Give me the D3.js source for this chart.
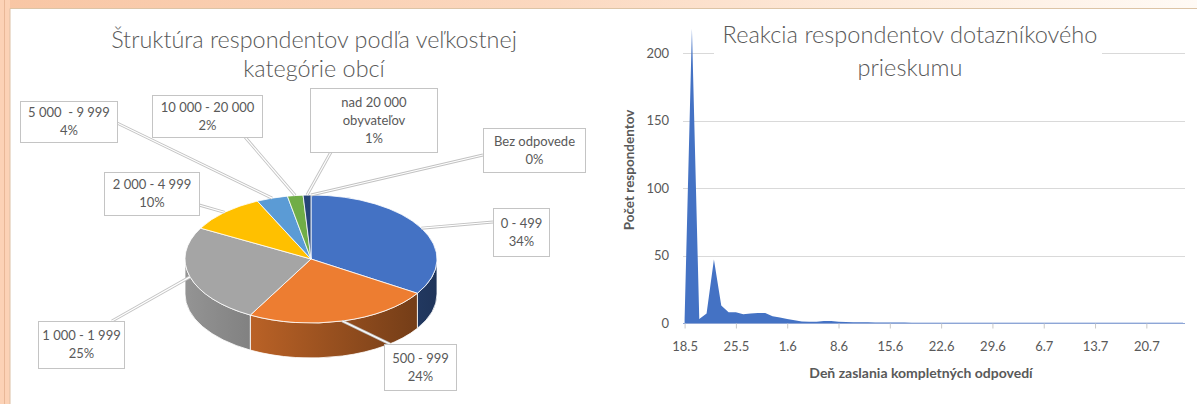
<!DOCTYPE html>
<html>
<head>
<meta charset="utf-8">
<script src="https://cdn.jsdelivr.net/npm/d3@7"></script>
<style>
    html, body { margin: 0; padding: 0; background: #fff; }
    svg { display: block; font-family: Lato, "Open Sans", sans-serif; }
</style>
</head>
<body>
<svg id="chart" width="1197" height="404"></svg>
<script>
// ---- pie: size categories of municipalities ----
const sizeCategories = ['0 - 499', '500 - 999', '1 000 - 1 999', '2 000 - 4 999',
    '5 000  - 9 999', '10 000 - 20 000', 'nad 20 000 obyvateľov', 'Bez odpovede'];
const sizeLabelLines = [['0 - 499'], ['500 - 999'], ['1 000 - 1 999'], ['2 000 - 4 999'],
    ['5 000  - 9 999'], ['10 000 - 20 000'], ['nad 20 000', 'obyvateľov'], ['Bez odpovede']];
const sizeShares = [34, 24, 25, 10, 4, 2, 1, 0];
const sizeColors = ['#4472C4', '#ED7D31', '#A5A5A5', '#FFC000', '#5B9BD5', '#70AD47', '#264478', '#9E480E'];

// ---- area: responses per day, starting 18.5 ----
const firstDay = new Date(2020, 4, 18);
const dailyResponses = [3, 218, 3, 7, 47, 13, 8, 8, 6.5, 7, 7.5, 7.5, 5, 4, 3, 2, 1.2, 1, 1, 1.5,
    1.5, 1, 0.8, 0.6, 0.5, 0.5, 0.4, 0.4, 0.3, 0.3, 0.3, 0.2, 0.2, 0.2, 0.2, 0.2, 0.2, 0.2, 0.2, 0.2,
    0.2, 0.2, 0.2, 0.2, 0.2, 0.2, 0.2, 0.2, 0.2, 0.2, 0.2, 0.2, 0.2, 0.2, 0.2, 0.2, 0.2, 0.2, 0.2, 0.2,
    0.2, 0.2, 0.2, 0.2, 0.2, 0.2, 0.2, 0.2, 0.2];
const yTicks = [0, 50, 100, 150, 200];
const xTickLabels = ['18.5', '25.5', '1.6', '8.6', '15.6', '22.6', '29.6', '6.7', '13.7', '20.7'];

const pieTitle = ['Štruktúra respondentov podľa veľkostnej', 'kategórie obcí'];
const areaTitle = ['Reakcia respondentov dotazníkového', 'prieskumu'];
const yTitle = 'Počet respondentov';
const xTitle = 'Deň zaslania kompletných odpovedí';

const textColor = '#595959';
const svg = d3.select('#chart');
const defs = svg.append('defs');

// ---------- slide background ----------
const topGrad = defs.append('linearGradient').attr('id', 'topGrad');
[[0, '#f8c6a4'], [0.45, '#fbd8bf'], [0.75, '#fdebdc'], [1, '#fffaf5']].forEach(([o, c]) =>
    topGrad.append('stop').attr('offset', o).attr('stop-color', c));
svg.append('rect').attr('width', 1197).attr('height', 9).attr('fill', 'url(#topGrad)');
svg.append('rect').attr('width', 10).attr('height', 404).attr('fill', '#fcd2b6');
svg.append('line').attr('x1', 4.5).attr('x2', 4.5).attr('y1', 0).attr('y2', 404)
    .attr('stroke', '#e9b898').attr('stroke-width', 1);
svg.append('line').attr('x1', 10).attr('x2', 1197).attr('y1', 8.5).attr('y2', 8.5)
    .attr('stroke', '#dcc4a6').attr('stroke-width', 1);
svg.append('line').attr('x1', 10).attr('x2', 10).attr('y1', 8.5).attr('y2', 404)
    .attr('stroke', '#dcbfa4').attr('stroke-width', 1);

function fitWidth(sel, target) {
    const w = sel.node().getComputedTextLength();
    const fs = parseFloat(sel.attr('font-size'));
    return fs * target / w;
}

// ---------- left: 3D pie ----------
const P = { cx: 311, cy: 259, rx: 126, ry: 64, depth: 35 };
const pt = (a, dy = 0) => [P.cx + P.rx * Math.sin(a), P.cy - P.ry * Math.cos(a) + dy];
const arcs = d3.pie().sort(null).value(d => d)(sizeShares);

const t1 = svg.append('g').attr('fill', textColor).attr('text-anchor', 'middle').attr('font-weight', 300);
const pt1 = t1.append('text').attr('x', 314).attr('y', 48).attr('font-size', 20).text(pieTitle[0]);
const pieTitleSize = fitWidth(pt1, 406);
pt1.attr('font-size', pieTitleSize);
t1.append('text').attr('x', 314).attr('y', 77).attr('font-size', pieTitleSize).text(pieTitle[1]);

sizeColors.forEach((c, i) => {
    const g = defs.append('linearGradient').attr('id', 'side' + i)
        .attr('gradientUnits', 'userSpaceOnUse')
        .attr('x1', P.cx - P.rx).attr('x2', P.cx + P.rx).attr('y1', 0).attr('y2', 0);
    g.append('stop').attr('offset', 0).attr('stop-color', d3.color(c).darker(0.3));
    g.append('stop').attr('offset', 1).attr('stop-color', d3.color(c).darker(2.2));
});

function sidePath(a0, a1) {
    const s = Math.max(a0, Math.PI / 2), e = Math.min(a1, 3 * Math.PI / 2);
    if (e <= s) return null;
    const [x0, y0] = pt(s), [x1, y1] = pt(e);
    return `M${x0},${y0}A${P.rx},${P.ry} 0 0 1 ${x1},${y1}L${x1},${y1 + P.depth}` +
        `A${P.rx},${P.ry} 0 0 0 ${x0},${y0 + P.depth}Z`;
}
function topPath(a0, a1) {
    if (a1 - a0 <= 0) return null;
    const [x0, y0] = pt(a0), [x1, y1] = pt(a1);
    const large = a1 - a0 > Math.PI ? 1 : 0;
    return `M${P.cx},${P.cy}L${x0},${y0}A${P.rx},${P.ry} 0 ${large} 1 ${x1},${y1}Z`;
}

const pieG = svg.append('g');
pieG.selectAll('path.side').data(arcs.filter(d => sidePath(d.startAngle, d.endAngle)))
    .join('path').attr('class', 'side')
    .attr('d', d => sidePath(d.startAngle, d.endAngle))
    .attr('fill', d => `url(#side${d.index})`)
    .attr('stroke', '#fff').attr('stroke-width', 0.8);
pieG.selectAll('path.top').data(arcs.filter(d => d.endAngle > d.startAngle))
    .join('path').attr('class', 'top')
    .attr('d', d => topPath(d.startAngle, d.endAngle))
    .attr('fill', d => sizeColors[d.index])
    .attr('stroke', '#fff').attr('stroke-width', 0.8);

// label callouts: box [x, y, w, h] and the point where the leader meets the box
const labelLayout = [
    { box: [493, 208, 56, 48], end: [493, 222] },
    { box: [384, 344, 72, 46], end: [390, 344] },
    { box: [38, 321, 86, 47], end: [112, 321] },
    { box: [104, 172, 95, 43], end: [199, 205] },
    { box: [20, 101, 97, 41], end: [117, 123] },
    { box: [152, 95, 110, 42], end: [245, 137] },
    { box: [310, 88, 127, 64], end: [331, 152] },
    { box: [483, 128, 102, 44], end: [483, 155] }
];

const leaderG = svg.append('g').attr('fill', 'none');
arcs.forEach((d, i) => {
    const mid = (d.startAngle + d.endAngle) / 2;
    const anchor = pt(mid);
    const line = d3.line()([anchor, labelLayout[i].end]);
    leaderG.append('path').attr('d', line).attr('stroke', '#c2c2c2').attr('stroke-width', 3);
    leaderG.append('path').attr('d', line).attr('stroke', '#fff').attr('stroke-width', 1.2);
});

const labelG = svg.append('g');
arcs.forEach((d, i) => {
    const [bx, by, bw, bh] = labelLayout[i].box;
    const g = labelG.append('g');
    g.append('rect').attr('x', bx + 0.5).attr('y', by + 0.5).attr('width', bw).attr('height', bh)
        .attr('fill', '#fff').attr('stroke', '#c4c4c4').attr('stroke-width', 1);
    const lines = sizeLabelLines[i].concat([`${sizeShares[i]}%`]);
    const cy = by + bh / 2 - (lines.length - 1) * 9;
    lines.forEach((s, k) => {
        g.append('text').attr('x', bx + bw / 2 + 0.5).attr('y', cy + k * 18)
            .attr('dy', '0.36em').attr('text-anchor', 'middle')
            .attr('font-size', 13).attr('fill', textColor)
            .style('white-space', 'pre').text(s);
    });
});

// ---------- right: area chart ----------
const dates = dailyResponses.map((v, i) => d3.timeDay.offset(firstDay, i));
const series = dailyResponses.map((v, i) => ({ date: dates[i], value: v }));

const x = d3.scaleTime().domain(d3.extent(dates)).range([684.6, 1183]);
const y = d3.scaleLinear().domain([0, 200]).range([323, 53]);

const plot = svg.append('g');
plot.append('g').selectAll('line').data(yTicks.filter(t => t > 0)).join('line')
    .attr('x1', 683).attr('x2', 1185)
    .attr('y1', d => Math.round(y(d)) + 0.5).attr('y2', d => Math.round(y(d)) + 0.5)
    .attr('stroke', '#d9d9d9').attr('stroke-width', 1);

// title sits on a white box that hides part of the top gridline
const titleG = svg.append('g').attr('fill', textColor).attr('text-anchor', 'middle').attr('font-weight', 300);
titleG.append('rect').attr('x', 714).attr('y', 14).attr('width', 388).attr('height', 72).attr('fill', '#fff');
const at1 = titleG.append('text').attr('x', 910).attr('y', 43).attr('font-size', 20).text(areaTitle[0]);
const areaTitleSize = fitWidth(at1, 375);
at1.attr('font-size', areaTitleSize);
titleG.append('text').attr('x', 910).attr('y', 76).attr('font-size', areaTitleSize).text(areaTitle[1]);

plot.append('line').attr('x1', 683).attr('x2', 1185).attr('y1', 323.5).attr('y2', 323.5)
    .attr('stroke', '#8ea6d6').attr('stroke-width', 1.2);

const area = d3.area().x(d => x(d.date)).y0(y(0)).y1(d => y(d.value));
plot.append('path').datum(series).attr('d', area).attr('fill', '#4472C4');

const xAxis = d3.axisBottom(x)
    .tickValues(dates.filter((d, i) => i % 7 === 0))
    .tickFormat((d, i) => xTickLabels[i])
    .tickSize(5).tickPadding(13);
const gx = plot.append('g').attr('transform', 'translate(0,323.5)').call(xAxis);
gx.select('.domain').remove();
gx.selectAll('.tick line').attr('stroke', '#c8c8c8');
gx.selectAll('.tick text').attr('fill', textColor).attr('font-size', 13).attr('font-family', 'Lato');

const yAxis = d3.axisLeft(y).tickValues(yTicks).tickSize(0).tickPadding(14);
const gy = plot.append('g').attr('transform', 'translate(683,0)').call(yAxis);
gy.select('.domain').remove();
gy.selectAll('.tick text').attr('fill', textColor).attr('font-size', 13).attr('font-family', 'Lato');

svg.append('text').attr('transform', 'translate(634,170) rotate(-90)')
    .attr('text-anchor', 'middle').attr('font-size', 13.5).attr('font-weight', 'bold')
    .attr('fill', textColor).text(yTitle);
svg.append('text').attr('x', 921).attr('y', 378)
    .attr('text-anchor', 'middle').attr('font-size', 14).attr('font-weight', 'bold')
    .attr('fill', textColor).text(xTitle);
</script>
</body>
</html>
